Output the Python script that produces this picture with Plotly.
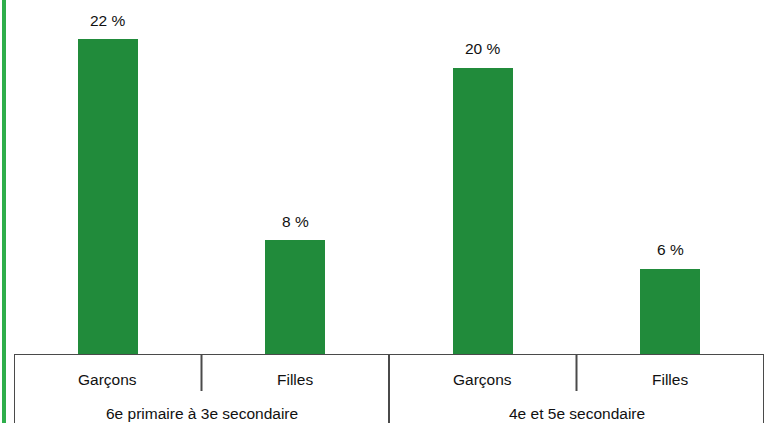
import plotly.graph_objects as go

groups = ["6e primaire à 3e secondaire", "4e et 5e secondaire"]
subcats = ["Garçons", "Filles", "Garçons", "Filles"]
values = [22, 8, 20, 6]
value_labels = ["22 %", "8 %", "20 %", "6 %"]

W, H = 770, 423
ml, mr, mt, mb = 14, 6, 0, 68
plot_h = H - mt - mb

bar_color = "#218B3B"
axis_color = "#4A4A4A"
text_color = "#111111"
font_family = "Liberation Sans, Arial, sans-serif"
fsize = 15.5

xs = list(range(len(values)))

fig = go.Figure()
fig.add_trace(go.Bar(x=xs, y=values, width=0.32, marker=dict(color=bar_color, line=dict(width=0)),
                     hoverinfo="skip"))

def py(px_below):
    return -px_below / plot_h

shapes = []
shapes.append(dict(type="line", xref="x", yref="y", x0=-0.5, x1=3.5, y0=0, y1=0,
                   line=dict(color=axis_color, width=2)))
for xv in [-0.5, 1.5, 3.5]:
    shapes.append(dict(type="line", xref="x", yref="paper", x0=xv, x1=xv, y0=0, y1=py(70),
                       line=dict(color=axis_color, width=2)))
for xv in [0.5, 2.5]:
    shapes.append(dict(type="line", xref="x", yref="paper", x0=xv, x1=xv, y0=0, y1=py(36),
                       line=dict(color=axis_color, width=2)))
shapes.append(dict(type="line", xref="paper", yref="paper", x0=-10/750, x1=-10/750, y0=py(70), y1=1.0,
                   line=dict(color="#2EAE4B", width=4)))

annotations = []
for x, v, lab in zip(xs, values, value_labels):
    annotations.append(dict(x=x, y=v, xref="x", yref="y", text=lab, showarrow=False,
                            yanchor="middle", yshift=19,
                            font=dict(size=fsize, color=text_color, family=font_family)))
for x, lab in zip(xs, subcats):
    annotations.append(dict(x=x, y=py(25), xref="x", yref="paper", text=lab, showarrow=False,
                            yanchor="middle", font=dict(size=fsize, color=text_color, family=font_family)))
for i, g in enumerate(groups):
    annotations.append(dict(x=2 * i + 0.5, y=py(58), xref="x", yref="paper", text=g, showarrow=False,
                            yanchor="middle", font=dict(size=fsize, color=text_color, family=font_family)))

fig.update_layout(
    width=W, height=H,
    margin=dict(l=ml, r=mr, t=mt, b=mb, pad=0),
    plot_bgcolor="white", paper_bgcolor="white",
    showlegend=False,
    xaxis=dict(range=[-0.5, 3.5], showticklabels=False, showgrid=False, zeroline=False,
               showline=False, ticks=""),
    yaxis=dict(range=[0, plot_h / 14.36], visible=False, showgrid=False, zeroline=False),
    shapes=shapes,
    annotations=annotations,
    bargap=0,
)

fig.write_html("out.html")
